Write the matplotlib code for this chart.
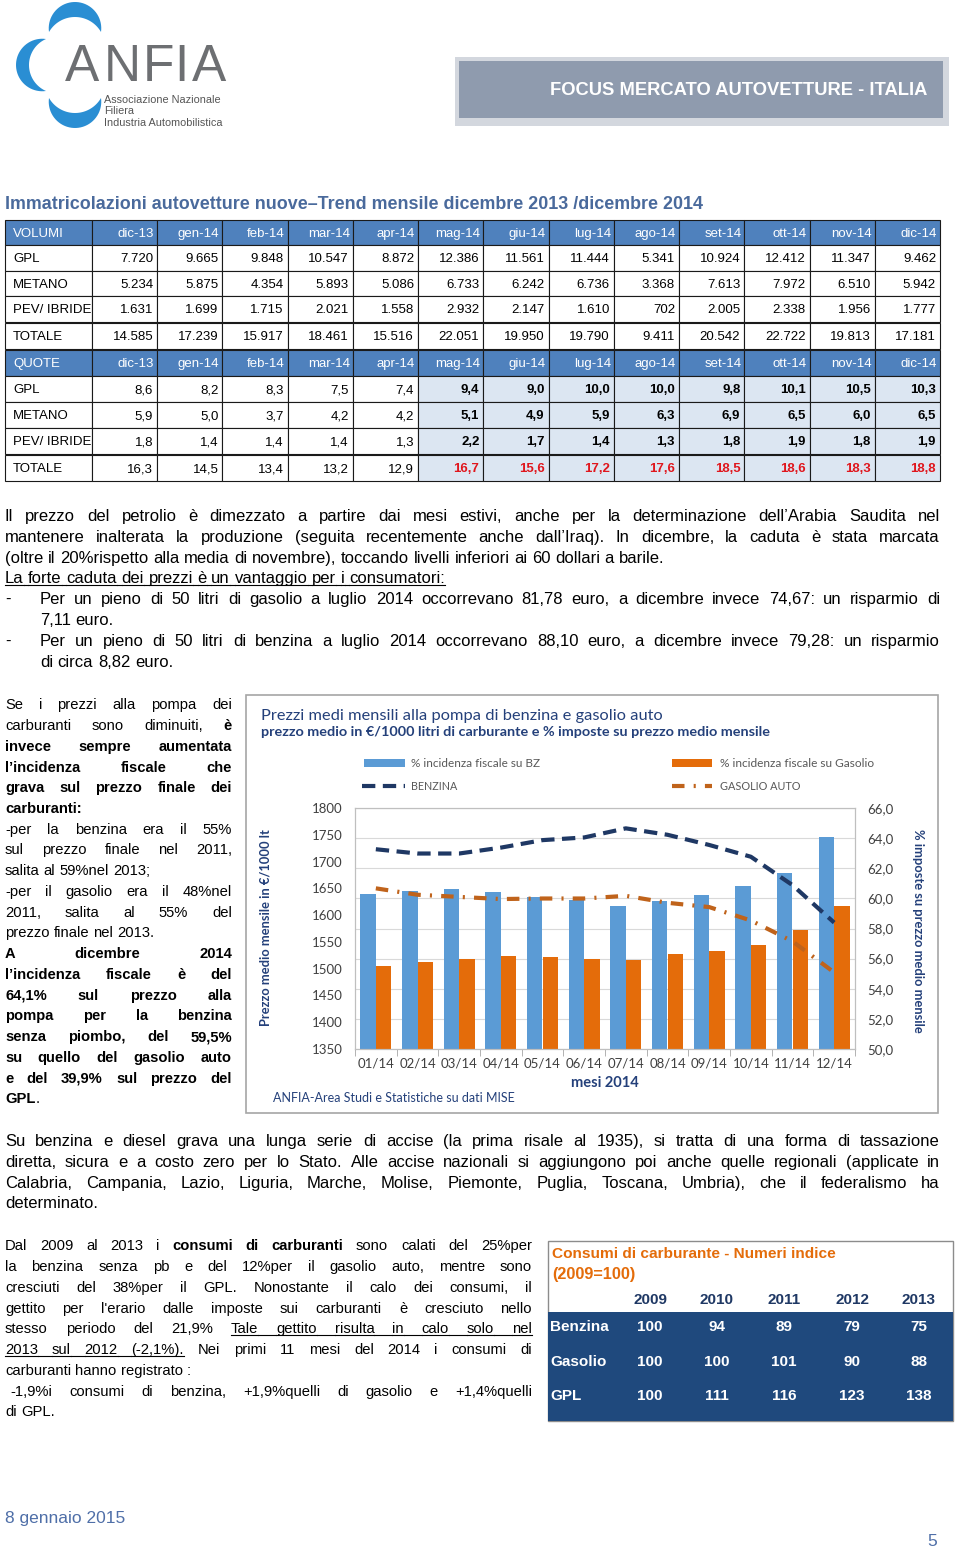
import numpy as np
import matplotlib
matplotlib.use('Agg')
import matplotlib.pyplot as plt
from matplotlib import font_manager
from matplotlib.patches import Rectangle, Polygon

# ---------------- DATA ----------------
months = ['01/14', '02/14', '03/14', '04/14', '05/14', '06/14',
          '07/14', '08/14', '09/14', '10/14', '11/14', '12/14']
incid_bz = [60.3, 60.5, 60.65, 60.4, 60.1, 59.9, 59.5, 59.8, 60.2, 60.8, 61.7, 64.1]
incid_gas = [55.5, 55.8, 56.0, 56.15, 56.1, 56.0, 55.9, 56.3, 56.5, 56.9, 57.9, 59.5]
prezzo_bz = [1723, 1715, 1715, 1726, 1740, 1745, 1762, 1750, 1731, 1709, 1656, 1586]
prezzo_gas = [1650, 1638, 1634, 1630, 1631, 1631, 1636, 1623, 1615, 1590, 1551, 1493]
left_ticks = [1350, 1400, 1450, 1500, 1550, 1600, 1650, 1700, 1750, 1800]
right_ticks = [50, 52, 54, 56, 58, 60, 62, 64, 66]

tab_cols = ['dic-13', 'gen-14', 'feb-14', 'mar-14', 'apr-14', 'mag-14', 'giu-14',
            'lug-14', 'ago-14', 'set-14', 'ott-14', 'nov-14', 'dic-14']
row_labels = ['GPL', 'METANO', 'PEV/ IBRIDE', 'TOTALE']
vol_gpl = [7720, 9665, 9848, 10547, 8872, 12386, 11561, 11444, 5341, 10924, 12412, 11347, 9462]
vol_metano = [5234, 5875, 4354, 5893, 5086, 6733, 6242, 6736, 3368, 7613, 7972, 6510, 5942]
vol_pev = [1631, 1699, 1715, 2021, 1558, 2932, 2147, 1610, 702, 2005, 2338, 1956, 1777]
vol_tot = [14585, 17239, 15917, 18461, 15516, 22051, 19950, 19790, 9411, 20542, 22722, 19813, 17181]
q_gpl = [8.6, 8.2, 8.3, 7.5, 7.4, 9.4, 9.0, 10.0, 10.0, 9.8, 10.1, 10.5, 10.3]
q_metano = [5.9, 5.0, 3.7, 4.2, 4.2, 5.1, 4.9, 5.9, 6.3, 6.9, 6.5, 6.0, 6.5]
q_pev = [1.8, 1.4, 1.4, 1.4, 1.3, 2.2, 1.7, 1.4, 1.3, 1.8, 1.9, 1.8, 1.9]
q_tot = [16.3, 14.5, 13.4, 13.2, 12.9, 16.7, 15.6, 17.2, 17.6, 18.5, 18.6, 18.3, 18.8]

cons_years = ['2009', '2010', '2011', '2012', '2013']
cons_labels = ['Benzina', 'Gasolio', 'GPL']
cons_benzina = [100, 94, 89, 79, 75]
cons_gasolio = [100, 100, 101, 90, 88]
cons_gpl = [100, 111, 116, 123, 138]

# ---------------- FONTS ----------------
avail = {f.name for f in font_manager.fontManager.ttflist}
SANS = 'Liberation Sans' if 'Liberation Sans' in avail else 'DejaVu Sans'
NARROW = 'Liberation Sans Narrow' if 'Liberation Sans Narrow' in avail else SANS
NARROW_STRETCH = 'normal'
CHART = 'Lato' if 'Lato' in avail else SANS

BLUE = '#5B9BD5'
ORANGE = '#E46C0A'
NAVY = '#1F3864'
BROWN = '#C0631B'
CHARTNAVY = '#24407A'

W, H = 960, 1556
fig = plt.figure(figsize=(W / 100, H / 100), dpi=100)
page = fig.add_axes([0, 0, 1, 1])
page.set_xlim(0, W)
page.set_ylim(H, 0)
page.axis('off')
renderer = fig.canvas.get_renderer()

_cache = {}
def measure(s, fs, family, weight='normal', stretch='normal'):
    key = (s, fs, family, weight, stretch)
    if key not in _cache:
        t = page.text(0, 0, s, fontsize=fs, family=family, fontweight=weight, fontstretch=stretch)
        _cache[key] = t.get_window_extent(renderer).width
        t.remove()
    return _cache[key]

def fit_text(s, x0, x1, y, guess, family, weight='normal', color='black', stretch='normal', va='center', **kw):
    w = measure(s, guess, family, weight, stretch)
    fs = guess * (x1 - x0) / w
    page.text(x0, y, s, fontsize=fs, family=family, fontweight=weight, fontstretch=stretch,
              color=color, ha='left', va=va, **kw)
    return fs

def parse(line):
    toks, cur, buf = [], [], ''
    bold = und = False
    for ch in line:
        if ch in '*~':
            if buf:
                cur.append((buf, bold, und)); buf = ''
            if ch == '*':
                bold = not bold
            else:
                und = not und
        elif ch == ' ':
            if buf:
                cur.append((buf, bold, und)); buf = ''
            if cur:
                toks.append(cur); cur = []
        else:
            buf += ch
    if buf:
        cur.append((buf, bold, und))
    if cur:
        toks.append(cur)
    return toks

def jline(line, x0, x1, yc, justify, fs, family, color='black', stretch='normal'):
    toks = parse(line)
    widths = [[measure(p, fs, family, 'bold' if b else 'normal', stretch) for p, b, u in tok] for tok in toks]
    total = sum(sum(w) for w in widths)
    sp = measure('a a', fs, family, 'normal', stretch) - measure('aa', fs, family, 'normal', stretch)
    n = len(toks)
    gap = (x1 - x0 - total) / (n - 1) if (justify and n > 1) else sp
    yb = yc + 0.36 * fs * 100 / 72
    x = x0
    prev_u = False
    for i, tok in enumerate(toks):
        if i > 0:
            if prev_u and tok[0][2]:
                page.plot([x - gap, x], [yb + 2, yb + 2], color=color, lw=0.8)
        for (p, b, u), w in zip(tok, widths[i]):
            page.text(x, yb, p, fontsize=fs, family=family, fontweight='bold' if b else 'normal',
                      fontstretch=stretch, color=color, ha='left', va='baseline')
            if u:
                page.plot([x, x + w], [yb + 2, yb + 2], color=color, lw=0.8)
            x += w
        prev_u = tok[-1][2]
        x += gap

# ---------------- HEADER / LOGO ----------------
def arc3(p0, pm, p1, n=40):
    (x1, y1), (x2, y2), (x3, y3) = p0, pm, p1
    d = 2 * (x1 * (y2 - y3) + x2 * (y3 - y1) + x3 * (y1 - y2))
    ux = ((x1**2 + y1**2) * (y2 - y3) + (x2**2 + y2**2) * (y3 - y1) + (x3**2 + y3**2) * (y1 - y2)) / d
    uy = ((x1**2 + y1**2) * (x3 - x2) + (x2**2 + y2**2) * (x1 - x3) + (x3**2 + y3**2) * (x2 - x1)) / d
    r = np.hypot(x1 - ux, y1 - uy)
    a0 = np.arctan2(y1 - uy, x1 - ux)
    am = np.arctan2(y2 - uy, x2 - ux)
    a1 = np.arctan2(y3 - uy, x3 - ux)
    def norm(a):
        return (a - a0) % (2 * np.pi)
    if norm(am) < norm(a1):
        t = np.linspace(0, norm(a1), n)
    else:
        t = np.linspace(0, norm(a1) - 2 * np.pi, n)
    return np.column_stack([ux + r * np.cos(a0 + t), uy + r * np.sin(a0 + t)])

def crescent(p0, outer_mid, inner_mid, p1, color):
    o = arc3(p0, outer_mid, p1)
    i = arc3(p1, inner_mid, p0)
    page.add_patch(Polygon(np.vstack([o, i]), closed=True, color=color, lw=0))

LOGO = '#2A8ED3'
crescent((49, 32), (75, 2), (75, 17), (101, 32), LOGO)
crescent((46, 39), (16, 65), (29, 65), (46, 91), LOGO)
crescent((49, 98), (75, 128), (75, 113), (101, 98), LOGO)
for ch, cx in zip('ANFIA', [82.5, 122, 158, 181.5, 209.5]):
    page.text(cx, 81, ch, fontsize=37, family=NARROW, color='#6D6F72', ha='center', va='baseline')
for s, yc in zip(['Associazione Nazionale', 'Filiera', 'Industria Automobilistica'], [100, 111, 123]):
    page.text(104, yc, s, fontsize=7.8, family=NARROW, color='#555555', ha='left', va='center')

page.add_patch(Rectangle((455, 57), 494, 69, facecolor='#D3D7DE', edgecolor='none'))
page.add_patch(Rectangle((459, 61), 484, 57, facecolor='#8F9BAE', edgecolor='none'))
fit_text('FOCUS MERCATO AUTOVETTURE - ITALIA', 550, 924, 90, 12, SANS, weight='bold', color='white')

# ---------------- REGISTRATION TABLE ----------------
fit_text('Immatricolazioni autovetture nuove\u2013Trend mensile dicembre 2013 /dicembre 2014',
         5, 700, 204, 13, NARROW, weight='bold', color='#4A6A9C', stretch=NARROW_STRETCH)

HDR = '#4F81BD'
LIGHT = '#DCE6F2'
col_x = [5, 92] + [92 + (940 - 92) / 13 * (k + 1) for k in range(13)]

def fmt_int(v):
    return f'{v:,}'.replace(',', '.')

def fmt_dec(v):
    return f'{v:.1f}'.replace('.', ',')

vol_rows = [vol_gpl, vol_metano, vol_pev, vol_tot]
q_rows = [q_gpl, q_metano, q_pev, q_tot]
vol_y = [(220, 245), (245, 271), (271, 296), (296, 322), (323, 349)]
q_y = [(350, 376), (376, 402), (402, 428), (428, 454), (455, 481)]

def draw_table(title, rows, ys, fmt, quote=False):
    y0, y1 = ys[0]
    for c in range(14):
        page.add_patch(Rectangle((col_x[c], y0), col_x[c + 1] - col_x[c], y1 - y0,
                                 facecolor=HDR, edgecolor='#1A1A1A', lw=0.8))
    page.text(13, (y0 + y1) / 2 + 1, title, fontsize=9.5, family=SANS, color='white', va='center', ha='left')
    for c, lab in enumerate(tab_cols):
        page.text(col_x[c + 2] - 3, (y0 + y1) / 2 + 1, lab, fontsize=9.5, family=SANS, color='white',
                  va='center', ha='right')
    for r, (lab, vals) in enumerate(zip(row_labels, rows)):
        y0, y1 = ys[r + 1]
        yc = (y0 + y1) / 2 + 1
        page.add_patch(Rectangle((col_x[0], y0), col_x[1] - col_x[0], y1 - y0,
                                 facecolor='white', edgecolor='#1A1A1A', lw=0.8))
        page.text(13, yc, lab, fontsize=9.5, family=SANS, color='black', va='center', ha='left')
        for c, v in enumerate(vals):
            hl = quote and c >= 5
            page.add_patch(Rectangle((col_x[c + 1], y0), col_x[c + 2] - col_x[c + 1], y1 - y0,
                                     facecolor=LIGHT if hl else 'white', edgecolor='#1A1A1A', lw=0.8))
            color = '#E0161D' if (hl and lab == 'TOTALE') else 'black'
            page.text(col_x[c + 2] - 4, yc, fmt(v), fontsize=9.5, family=SANS, color=color,
                      fontweight='bold' if hl else 'normal', va='center', ha='right')

draw_table('VOLUMI', vol_rows, vol_y, fmt_int)
draw_table('QUOTE', q_rows, q_y, fmt_dec, quote=True)

# ---------------- MAIN PARAGRAPH ----------------
PFS = 12.0
para = [
    ("Il prezzo del petrolio è dimezzato a partire dai mesi estivi, anche per la determinazione dell\u2019Arabia Saudita nel", 5, True),
    ("mantenere inalterata la produzione (seguita recentemente anche dall\u2019Iraq). In dicembre, la caduta è stata marcata", 5, True),
    ("(oltre il 20%rispetto alla media di novembre), toccando livelli inferiori ai 60 dollari a barile.", 5, False),
    ("~La forte caduta dei prezzi è un vantaggio per i consumatori:~", 5, False),
    ("Per un pieno di 50 litri di gasolio a luglio 2014 occorrevano 81,78 euro, a dicembre invece 74,67: un risparmio di", 40, True),
    ("7,11 euro.", 40, False),
    ("Per un pieno di 50 litri di benzina a luglio 2014 occorrevano 88,10 euro, a dicembre invece 79,28: un risparmio", 40, True),
    ("di circa 8,82 euro.", 40, False),
]
for i, (ln, x0, j) in enumerate(para):
    yc = 515 + i * 20.8
    jline(ln, x0, 940, yc, j, PFS, NARROW, stretch=NARROW_STRETCH)
for yc in (515 + 4 * 20.8, 515 + 6 * 20.8):
    jline('-', 5, 20, yc, False, PFS, NARROW, stretch=NARROW_STRETCH)

# ---------------- LEFT COLUMN ----------------
LFS = 10.6
left_col = [
    ("Se i prezzi alla pompa dei", True),
    ("carburanti sono diminuiti, *è*", True),
    ("*invece sempre aumentata*", True),
    ("*l\u2019incidenza fiscale che*", True),
    ("*grava sul prezzo finale dei*", True),
    ("*carburanti:*", False),
    ("-per la benzina era il 55%", True),
    ("sul prezzo finale nel 2011,", True),
    ("salita al 59%nel 2013;", False),
    ("-per il gasolio era il 48%nel", True),
    ("2011, salita al 55% del", True),
    ("prezzo finale nel 2013.", False),
    ("*A dicembre 2014*", True),
    ("*l\u2019incidenza fiscale è del*", True),
    ("*64,1% sul prezzo alla*", True),
    ("*pompa per la benzina*", True),
    ("*senza piombo, del 59,5%*", True),
    ("*su quello del gasolio auto*", True),
    ("*e del 39,9% sul prezzo del*", True),
    ("*GPL*.", False),
]
for i, (ln, j) in enumerate(left_col):
    jline(ln, 5, 232, 704 + i * 20.74, j, LFS, SANS)

# ---------------- ACCISE PARAGRAPH ----------------
accise = [
    ("Su benzina e diesel grava una lunga serie di accise (la prima risale al 1935), si tratta di una forma di tassazione", True),
    ("diretta, sicura e a costo zero per lo Stato. Alle accise nazionali si aggiungono poi anche quelle regionali (applicate in", True),
    ("Calabria, Campania, Lazio, Liguria, Marche, Molise, Piemonte, Puglia, Toscana, Umbria), che il federalismo ha", True),
    ("determinato.", False),
]
for i, (ln, j) in enumerate(accise):
    jline(ln, 5, 940, 1140 + i * 20.8, j, PFS, NARROW, stretch=NARROW_STRETCH)

# ---------------- BOTTOM LEFT PARAGRAPH ----------------
bottom = [
    ("Dal 2009 al 2013 i *consumi di carburanti* sono calati del 25%per", 5, True),
    ("la benzina senza pb e del 12%per il gasolio auto, mentre sono", 5, True),
    ("cresciuti del 38%per il GPL. Nonostante il calo dei consumi, il", 5, True),
    ("gettito per l'erario dalle imposte sui carburanti è cresciuto nello", 5, True),
    ("stesso periodo del 21,9% ~Tale gettito risulta in calo solo nel~", 5, True),
    ("~2013 sul 2012 (-2,1%).~ Nei primi 11 mesi del 2014 i consumi di", 5, True),
    ("carburanti hanno registrato :", 5, False),
    ("-1,9%i consumi di benzina, +1,9%quelli di gasolio e +1,4%quelli", 10, True),
    ("di GPL.", 5, False),
]
for i, (ln, x0, j) in enumerate(bottom):
    jline(ln, x0, 532, 1245 + i * 20.75, j, LFS, SANS)

# ---------------- CONSUMI TABLE ----------------
page.add_patch(Rectangle((548, 1241), 405, 180, facecolor='white', edgecolor='#8C8C8C', lw=1))
page.add_patch(Rectangle((548, 1312), 405, 109, facecolor='#1F497D', edgecolor='none'))
fit_text('Consumi di carburante - Numeri indice', 552, 836, 1254, 10.5, SANS, weight='bold', color='#E46C0A')
fit_text('(2009=100)', 552, 636, 1274, 10.5, SANS, weight='bold', color='#E46C0A')
cons_x = [650, 717, 784, 852, 919]
for yr, cx in zip(cons_years, cons_x):
    page.text(cx, 1300, yr, fontsize=11, family=SANS, fontweight='bold', color='#1F3864',
              ha='center', va='center')
for lab, vals, yc in zip(cons_labels, [cons_benzina, cons_gasolio, cons_gpl], [1327, 1362, 1396]):
    page.text(550, yc, lab, fontsize=11, family=SANS, fontweight='bold', color='white', ha='left', va='center')
    for v, cx in zip(vals, cons_x):
        page.text(cx, yc, str(v), fontsize=11, family=SANS, fontweight='bold', color='white',
                  ha='center', va='center')

# ---------------- FOOTER ----------------
page.text(5, 1518, '8 gennaio 2015', fontsize=12.5, family=SANS, color='#4F6FA8', ha='left', va='center')
page.text(937, 1542, '5', fontsize=12.5, family=SANS, color='#4F6FA8', ha='right', va='center')

# ---------------- CHART ----------------
page.add_patch(Rectangle((246, 695), 692, 418, facecolor='white', edgecolor='#A6A6A6', lw=1.2))
fit_text('Prezzi medi mensili alla pompa di benzina e gasolio auto', 261, 665, 716, 10.5, CHART, color=CHARTNAVY)
fit_text('prezzo medio in \u20ac/1000 litri di carburante e % imposte su prezzo medio mensile', 261, 771, 732, 9,
         CHART, weight='bold', color=CHARTNAVY)

ax = fig.add_axes([355 / W, 1 - 1049 / H, 500 / W, 241 / H])
ax2 = ax.twinx()
ax.set_zorder(ax2.get_zorder() + 1)
ax.patch.set_visible(False)

x = np.arange(len(months))
bw = 0.37
ax2.bar(x - bw / 2, incid_bz, bw, color=BLUE, zorder=2)
ax2.bar(x + bw / 2, incid_gas, bw, color=ORANGE, zorder=2)
ax2.set_ylim(50, 66)
ax2.set_yticks(right_ticks)
ax2.set_yticklabels([fmt_dec(v) for v in right_ticks])
ax2.yaxis.grid(True, color='#D9D9D9', lw=0.8)
ax2.set_axisbelow(True)

DASH_BZ = (3.2, 1.8)
DASH_GAS = (3.0, 2.2, 0.5, 2.2)
ax.plot(x, prezzo_bz, color=NAVY, lw=3, dashes=DASH_BZ)
ax.plot(x, prezzo_gas, color=BROWN, lw=3, dashes=DASH_GAS)
ax.set_ylim(1350, 1800)
ax.set_yticks(left_ticks)
ax.set_xlim(-0.5, len(months) - 0.5)
ax.set_xticks(x)
ax.set_xticklabels(months)
ax.set_xticks(np.arange(len(months) + 1) - 0.5, minor=True)
ax.tick_params(axis='x', which='major', length=0, pad=6)
ax.tick_params(axis='x', which='minor', length=5, color='#A6A6A6')
for a in (ax, ax2):
    a.tick_params(axis='y', length=0, pad=9)
    for lab in a.get_yticklabels() + a.get_xticklabels():
        lab.set_fontfamily(CHART)
        lab.set_fontsize(9.5)
        lab.set_color('#404040')
    for s in a.spines.values():
        s.set_color('#BFBFBF')
        s.set_linewidth(0.8)

# legend (manual, drawn on page)
page.add_patch(Rectangle((364, 759), 41, 8, facecolor=BLUE, edgecolor='none'))
page.add_patch(Rectangle((672, 759), 40, 8, facecolor=ORANGE, edgecolor='none'))
page.plot([362, 405], [786, 786], color=NAVY, lw=3, dashes=DASH_BZ)
page.plot([672, 712], [786, 786], color=BROWN, lw=3, dashes=DASH_GAS)
fit_text('% incidenza fiscale su BZ', 411, 541, 763, 8, CHART, color='#595959')
fit_text('% incidenza fiscale su Gasolio', 720, 876, 763, 8, CHART, color='#595959')
fit_text('BENZINA', 411, 457, 786, 8, CHART, color='#595959')
fit_text('GASOLIO AUTO', 720, 800, 786, 8, CHART, color='#595959')

page.text(266, 928, 'Prezzo medio mensile in \u20ac/1000 lt', rotation=90, fontsize=9.3, family=CHART,
          fontweight='bold', color=CHARTNAVY, ha='center', va='center')
page.text(918, 931, '% imposte su prezzo medio mensile', rotation=270, fontsize=9.3, family=CHART,
          fontweight='bold', color=CHARTNAVY, ha='center', va='center')
page.text(605, 1083, 'mesi 2014', fontsize=10.5, family=CHART, fontweight='bold', color=CHARTNAVY,
          ha='center', va='center')
page.text(273, 1098, 'ANFIA-Area Studi e Statistiche su dati MISE', fontsize=9, family=CHART,
          color=CHARTNAVY, ha='left', va='center')

fig.savefig('out.png', dpi=100, facecolor='white')
